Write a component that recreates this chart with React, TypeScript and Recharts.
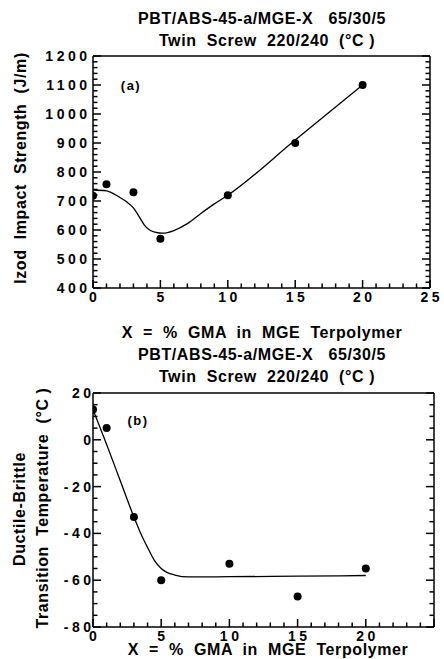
import React from 'react';
import { ComposedChart, Line, Scatter, XAxis, YAxis } from 'recharts';

// ---- data ----
const gmaPercent = [0, 1, 3, 5, 10, 15, 20];
const izodImpact = [718, 758, 730, 570, 720, 900, 1100];
const izodFitX = [0, 1, 2, 2.5, 3, 3.5, 3.8, 4.2, 4.6, 5.2, 6, 7, 8, 9, 10, 15, 20];
const izodFitY = [738, 735, 712, 697, 676, 640, 618, 600, 593, 589, 598, 622, 657, 690, 720, 910, 1100];
const dbTemp = [13, 5, -33, -60, -53, -67, -55];
const dbFitX = [0, 1, 2, 3, 3.5, 4, 4.5, 5, 6, 7, 10, 15, 20];
const dbFitY = [13, -2, -17.5, -33, -40, -46, -51.5, -55, -57.8, -58.6, -58.5, -58.3, -58];

const topXLabels = [0, 5, 10, 15, 20, 25];
const bottomXLabels = [0, 5, 10, 15, 20];
const izodYLabels = [400, 500, 600, 700, 800, 900, 1000, 1100, 1200];
const tempYLabels = [-80, -60, -40, -20, 0, 20];

const xMinorStep = 1;
const izodMinorStep = 20;
const tempMinorStep = 5;

const range = (a: number, b: number, s: number) => {
  const out: number[] = [];
  for (let v = a; v <= b + 1e-9; v += s) out.push(Math.round(v * 1000) / 1000);
  return out;
};

const izodPoints = gmaPercent.map((x, i) => ({ x, y: izodImpact[i] }));
const izodFit = izodFitX.map((x, i) => ({ x, y: izodFitY[i] }));
const tempPoints = gmaPercent.map((x, i) => ({ x, y: dbTemp[i] }));
const tempFit = dbFitX.map((x, i) => ({ x, y: dbFitY[i] }));

const FONT = '"Liberation Sans", Arial, Helvetica, sans-serif';
const LS = 3.5;

type Side = 'bottom' | 'top' | 'left' | 'right';

const makeTick = (side: Side, majors: number[], labels: number[] | null, labelGap = 3) =>
  (props: any) => {
    const { x, y, payload } = props;
    const v = payload.value;
    const isMajor = majors.includes(v);
    const len = isMajor ? 8 : 4.5;
    let d = '';
    if (side === 'bottom') d = `M${x},${y}L${x},${y - len}`;
    if (side === 'top') d = `M${x},${y}L${x},${y + len}`;
    if (side === 'left') d = `M${x},${y}L${x + len},${y}`;
    if (side === 'right') d = `M${x},${y}L${x - len},${y}`;
    let text: any = null;
    if (labels && labels.includes(v)) {
      const str = String(v);
      if (side === 'bottom') {
        text = (
          <text x={x + LS / 2} y={y + 14} textAnchor="middle" fontSize={14} fontWeight="bold"
            fontFamily={FONT} letterSpacing={LS} fill="#000" stroke="none">{str}</text>
        );
      } else if (side === 'left') {
        text = (
          <text x={x - labelGap + LS} y={y + 5} textAnchor="end" fontSize={14} fontWeight="bold"
            fontFamily={FONT} letterSpacing={LS} fill="#000" stroke="none">{str}</text>
        );
      }
    }
    return (
      <g>
        <path d={d} style={{ stroke: '#000', strokeWidth: 1.5, fill: 'none' }} />
        {text}
      </g>
    );
  };

const abs = (style: React.CSSProperties): React.CSSProperties => ({
  position: 'absolute',
  fontFamily: FONT,
  fontWeight: 'bold',
  whiteSpace: 'pre',
  color: '#000',
  lineHeight: 1,
  ...style,
});

const Centered = ({ cx, cy, size, text, ls = 0 }: any) => (
  <div style={abs({ left: cx, top: cy, fontSize: size, letterSpacing: ls, transform: 'translate(-50%, -50%)' })}>{text}</div>
);

const Rotated = ({ cx, cy, size, text, ls = 0 }: any) => (
  <div style={abs({ left: cx, top: cy, fontSize: size, letterSpacing: ls, transform: 'translate(-50%, -50%) rotate(-90deg)' })}>{text}</div>
);

const axisLine = { stroke: '#000', strokeWidth: 1.5 };

export default function App() {
  const xTicks = range(0, 25, xMinorStep);
  const izodTicks = range(400, 1200, izodMinorStep);
  const tempTicks = range(-80, 20, tempMinorStep);

  return (
    <div style={{ position: 'absolute', left: 0, top: 0, width: 444, height: 659, background: '#fff', overflow: 'hidden' }}>
      {/* Chart (a) */}
      <div style={{ position: 'absolute', left: 0, top: 0 }}>
        <ComposedChart width={444} height={345} margin={{ top: 0, right: 0, bottom: 0, left: 0 }}>
          <XAxis xAxisId="b" dataKey="x" type="number" domain={[0, 25]} ticks={xTicks} interval={0}
            allowDataOverflow orientation="bottom" height={57} tickSize={0} tickMargin={0} tickLine={false}
            axisLine={axisLine} tick={makeTick('bottom', topXLabels, topXLabels)} />
          <XAxis xAxisId="t" type="number" domain={[0, 25]} ticks={xTicks} interval={0}
            allowDataOverflow orientation="top" height={56} tickSize={0} tickMargin={0} tickLine={false}
            axisLine={axisLine} tick={makeTick('top', topXLabels, null)} />
          <YAxis yAxisId="l" dataKey="y" type="number" domain={[400, 1200]} ticks={izodTicks} interval={0}
            allowDataOverflow orientation="left" width={93} tickSize={0} tickMargin={0} tickLine={false}
            axisLine={axisLine} tick={makeTick('left', izodYLabels, izodYLabels, 6)} />
          <YAxis yAxisId="r" type="number" domain={[400, 1200]} ticks={izodTicks} interval={0}
            allowDataOverflow orientation="right" width={14} tickSize={0} tickMargin={0} tickLine={false}
            axisLine={axisLine} tick={makeTick('right', izodYLabels, null)} />
          <Line xAxisId="b" yAxisId="l" data={izodFit} dataKey="y" type="monotone" stroke="#000"
            strokeWidth={1.3} dot={false} activeDot={false} isAnimationActive={false} />
          <Scatter xAxisId="b" yAxisId="l" data={izodPoints} dataKey="y" isAnimationActive={false}
            shape={(p: any) => <circle cx={p.cx} cy={p.cy} r={4} fill="#000" />} />
        </ComposedChart>
      </div>

      {/* Chart (b) */}
      <div style={{ position: 'absolute', left: 0, top: 340 }}>
        <ComposedChart width={444} height={319} margin={{ top: 0, right: 0, bottom: 0, left: 0 }}>
          <XAxis xAxisId="b" dataKey="x" type="number" domain={[0, 25]} ticks={xTicks} interval={0}
            allowDataOverflow orientation="bottom" height={32} tickSize={0} tickMargin={0} tickLine={false}
            axisLine={axisLine} tick={makeTick('bottom', topXLabels, bottomXLabels)} />
          <XAxis xAxisId="t" type="number" domain={[0, 25]} ticks={xTicks} interval={0}
            allowDataOverflow orientation="top" height={53} tickSize={0} tickMargin={0} tickLine={false}
            axisLine={axisLine} tick={makeTick('top', topXLabels, null)} />
          <YAxis yAxisId="l" dataKey="y" type="number" domain={[-80, 20]} ticks={tempTicks} interval={0}
            allowDataOverflow orientation="left" width={93} tickSize={0} tickMargin={0} tickLine={false}
            axisLine={axisLine} tick={makeTick('left', tempYLabels, tempYLabels, 2)} />
          <YAxis yAxisId="r" type="number" domain={[-80, 20]} ticks={tempTicks} interval={0}
            allowDataOverflow orientation="right" width={10} tickSize={0} tickMargin={0} tickLine={false}
            axisLine={axisLine} tick={makeTick('right', tempYLabels, null)} />
          <Line xAxisId="b" yAxisId="l" data={tempFit} dataKey="y" type="monotone" stroke="#000"
            strokeWidth={1.3} dot={false} activeDot={false} isAnimationActive={false} />
          <Scatter xAxisId="b" yAxisId="l" data={tempPoints} dataKey="y" isAnimationActive={false}
            shape={(p: any) => <circle cx={p.cx} cy={p.cy} r={4} fill="#000" />} />
        </ComposedChart>
      </div>

      {/* Titles and labels for (a) */}
      <Centered cx={262} cy={19} size={16} ls={0.6} text={'PBT/ABS-45-a/MGE-X   65/30/5'} />
      <Centered cx={267} cy={41} size={16} ls={0.6} text={'Twin  Screw  220/240  (°C )'} />
      <Centered cx={131} cy={85} size={13} ls={1.5} text={'(a)'} />
      <Rotated cx={21} cy={168} size={16} ls={0.6} text={'Izod  Impact  Strength  (J/m)'} />
      <Centered cx={262} cy={333} size={16} ls={0.6} text={'X  =  %  GMA  in  MGE  Terpolymer'} />

      {/* Titles and labels for (b) */}
      <Centered cx={262} cy={355} size={16} ls={0.6} text={'PBT/ABS-45-a/MGE-X   65/30/5'} />
      <Centered cx={267} cy={377} size={16} ls={0.6} text={'Twin  Screw  220/240  (°C )'} />
      <Centered cx={138} cy={420} size={13} ls={1.5} text={'(b)'} />
      <Rotated cx={20} cy={509} size={16} ls={0.6} text={'Ductile-Brittle'} />
      <Rotated cx={43} cy={508} size={16} ls={0.6} text={'Transition  Temperature  (°C )'} />
      <Centered cx={268} cy={650} size={16} ls={0.6} text={'X  =  %  GMA  in  MGE  Terpolymer'} />
    </div>
  );
}
